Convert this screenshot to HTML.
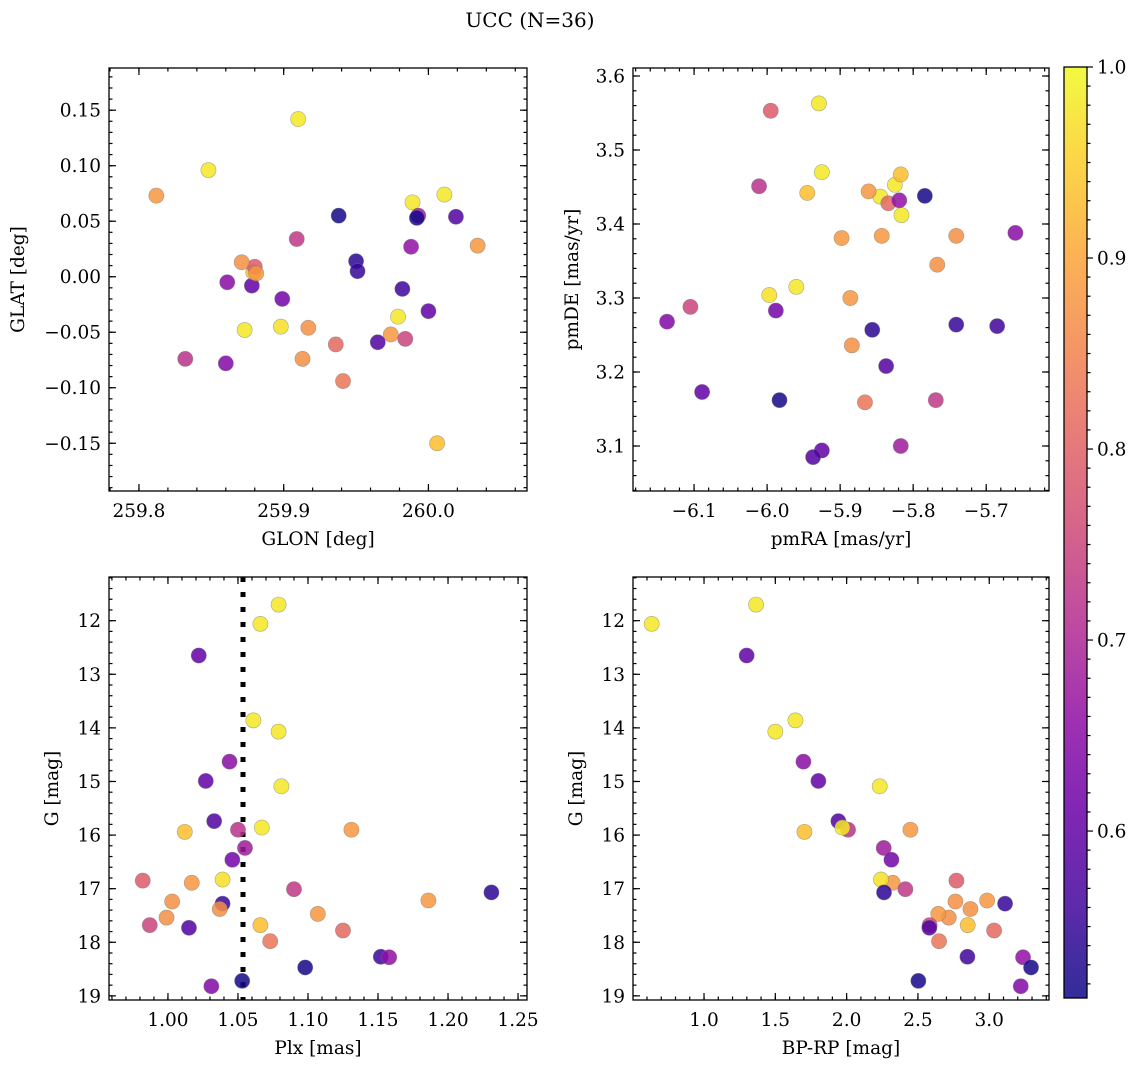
<!DOCTYPE html>
<html><head><meta charset="utf-8"><style>
html,body{margin:0;padding:0;background:#fff;}
svg text{font-family:"DejaVu Serif","Liberation Serif",serif;fill:#000;}
</style></head><body>
<svg id="fig" width="1136" height="1067" viewBox="0 0 1136 1067" xmlns="http://www.w3.org/2000/svg">
<rect width="1136" height="1067" fill="#fff"/>
<text x="530" y="27" font-size="20" text-anchor="middle">UCC (N=36)</text>
</svg>
<script>
const glon=[259.910,259.848,259.878,259.989,260.011,259.861,260.000,259.979,260.019,259.879,259.832,259.873,259.812,259.993,259.899,259.880,260.034,259.898,259.909,259.950,259.917,259.951,259.913,259.974,259.871,259.881,259.984,259.965,260.006,259.936,259.941,259.982,259.988,259.992,259.938,259.860];
const glat=[0.142,0.096,-0.008,0.067,0.074,-0.005,-0.031,-0.036,0.054,0.004,-0.074,-0.048,0.073,0.055,-0.020,0.009,0.028,-0.045,0.034,0.014,-0.046,0.005,-0.074,-0.052,0.013,0.003,-0.056,-0.059,-0.150,-0.061,-0.094,-0.011,0.027,0.053,0.055,-0.078];
const pmra=[-5.929,-5.925,-6.089,-5.825,-5.845,-5.660,-5.925,-5.816,-5.937,-5.817,-6.011,-5.960,-5.861,-5.817,-5.988,-5.995,-5.898,-5.997,-5.769,-5.856,-5.741,-5.741,-5.767,-5.886,-5.884,-5.843,-6.105,-5.837,-5.945,-5.834,-5.866,-5.685,-5.819,-5.784,-5.983,-6.137];
const pmde=[3.563,3.470,3.173,3.453,3.437,3.388,3.094,3.412,3.085,3.467,3.451,3.315,3.444,3.100,3.283,3.553,3.381,3.304,3.162,3.257,3.384,3.264,3.345,3.300,3.236,3.384,3.288,3.208,3.442,3.428,3.159,3.262,3.432,3.438,3.162,3.268];
const plx=[1.079,1.066,1.022,1.061,1.079,1.044,1.027,1.081,1.033,1.012,1.050,1.067,1.131,1.055,1.046,0.982,1.017,1.039,1.090,1.231,1.003,1.039,1.037,1.186,0.999,1.107,0.987,1.015,1.066,1.125,1.073,1.152,1.158,1.098,1.053,1.031];
const gmag=[11.70,12.06,12.65,13.86,14.07,14.63,14.99,15.09,15.74,15.94,15.90,15.86,15.90,16.24,16.46,16.85,16.89,16.83,17.01,17.07,17.24,17.28,17.38,17.22,17.54,17.47,17.68,17.73,17.68,17.78,17.98,18.27,18.28,18.47,18.72,18.82];
const bprp=[1.365,0.633,1.299,1.641,1.500,1.697,1.802,2.232,1.942,1.704,2.010,1.970,2.447,2.260,2.314,2.770,2.323,2.241,2.412,2.262,2.763,3.111,2.868,2.985,2.716,2.643,2.582,2.580,2.849,3.034,2.648,2.847,3.237,3.293,2.503,3.221];
const prob=[0.98,0.98,0.60,0.98,0.98,0.65,0.60,0.98,0.58,0.93,0.72,0.98,0.88,0.68,0.62,0.79,0.88,0.97,0.73,0.54,0.87,0.55,0.87,0.88,0.87,0.88,0.75,0.58,0.93,0.81,0.83,0.56,0.66,0.52,0.52,0.64];
const medianPlx=1.0536;
const cbTicks=[0.6,0.7,0.8,0.9,1.0];
const probMin=0.5126, probMax=1.0;

const NS="http://www.w3.org/2000/svg";
const svg=document.getElementById('fig');
function mk(tag,attrs,parent){const e=document.createElementNS(NS,tag);for(const k in attrs)e.setAttribute(k,attrs[k]);(parent||svg).appendChild(e);return e;}
const stops=[[0,'#0d0887'],[0.1,'#41049d'],[0.2,'#6a00a8'],[0.3,'#8f0da4'],[0.4,'#b12a90'],[0.5,'#cc4778'],[0.6,'#e16462'],[0.7,'#f2844b'],[0.8,'#fca636'],[0.9,'#fcce25'],[1,'#f0f921']];
function hex(h){return [1,3,5].map(i=>parseInt(h.substr(i,2),16));}
function plasma(t){t=Math.max(0,Math.min(1,t));for(let i=1;i<stops.length;i++){if(t<=stops[i][0]){const a=stops[i-1],b=stops[i];const f=(t-a[0])/(b[0]-a[0]);const ca=hex(a[1]),cb=hex(b[1]);return 'rgb('+ca.map((v,j)=>Math.round(v+(cb[j]-v)*f)).join(',')+')';}}return stops[stops.length-1][1];}
function cnorm(p){return (p-probMin)/(probMax-probMin);}

function fmt(v,d){const s=Math.abs(v).toFixed(d);return (v<-1e-9?'\u2212':'')+s;}
const FS=18.5;

function panel(cfg){
  const g=mk('g',{});
  
  
  const {x0,x1,y0,y1}=cfg.box;
  const sx=v=>x0+(v-cfg.xr[0])/(cfg.xr[1]-cfg.xr[0])*(x1-x0);
  const sy=cfg.yinv? (v=>y0+(v-cfg.yr[0])/(cfg.yr[1]-cfg.yr[0])*(y1-y0)) : (v=>y1-(v-cfg.yr[0])/(cfg.yr[1]-cfg.yr[0])*(y1-y0));
  const tg=mk('g',{stroke:'#000','stroke-width':1.2},g);
  function ticksX(step,len){const s=Math.ceil(Math.min(...cfg.xr)/step-1e-6);for(let k=s;k*step<=Math.max(...cfg.xr)+1e-9;k++){const x=sx(k*step);mk('line',{x1:x,x2:x,y1:y1,y2:y1-len},tg);mk('line',{x1:x,x2:x,y1:y0,y2:y0+len},tg);}}
  function ticksY(step,len){const lo=Math.min(...cfg.yr),hi=Math.max(...cfg.yr);const s=Math.ceil(lo/step-1e-6);for(let k=s;k*step<=hi+1e-9;k++){const y=sy(k*step);mk('line',{x1:x0,x2:x0+len,y1:y,y2:y},tg);mk('line',{x1:x1,x2:x1-len,y1:y,y2:y},tg);}}
  ticksX(cfg.xminor,3.5);ticksY(cfg.yminor,3.5);
  cfg.xticks.forEach(v=>{const x=sx(v);mk('line',{x1:x,x2:x,y1:y1,y2:y1-7},tg);mk('line',{x1:x,x2:x,y1:y0,y2:y0+7},tg);
    const t=mk('text',{x:x,y:y1+26,'font-size':FS,'text-anchor':'middle'},g);t.textContent=fmt(v,cfg.xdec);
    
    });
  cfg.yticks.forEach(v=>{const y=sy(v);mk('line',{x1:x0,x2:x0+7,y1:y,y2:y},tg);mk('line',{x1:x1,x2:x1-7,y1:y,y2:y},tg);
    const t=mk('text',{x:x0-8,y:y+6.5,'font-size':FS,'text-anchor':'end'},g);t.textContent=fmt(v,cfg.ydec);
    
    });
  if(cfg.vline!==undefined){const x=sx(cfg.vline);const l=mk('line',{x1:x,x2:x,y1:y0,y2:y1,stroke:'#000','stroke-width':5,'stroke-dasharray':'5 10'},g);
    
    }
  const pg=mk('g',{},g);
  
  
  cfg.xs.forEach((xv,i)=>{const c=mk('circle',{cx:sx(xv),cy:sy(cfg.ys[i]),r:7.6,fill:plasma(cnorm(prob[i])),'fill-opacity':0.85,stroke:'#777','stroke-opacity':0.6,'stroke-width':0.6},pg);
    
    });
  mk('rect',{x:x0,y:y0,width:x1-x0,height:y1-y0,fill:'none',stroke:'#000','stroke-width':1.3},g);
  const xl=mk('text',{x:(x0+x1)/2,y:y1+54,'font-size':FS,'text-anchor':'middle'},g);xl.textContent=cfg.xlabel;
  
  
  const yx=cfg.ylabx, yy=(y0+y1)/2;
  const yl=mk('text',{x:yx,y:yy,'font-size':FS,'text-anchor':'middle',transform:'rotate(-90 '+yx+' '+yy+')'},g);yl.textContent=cfg.ylabel;
  
  
}
panel({name:'glon-glat-panel',box:{x0:109,x1:527,y0:68,y1:491},xr:[259.7793,260.0681],yr:[-0.193,0.188],xs:glon,ys:glat,
  xticks:[259.8,259.9,260.0],xdec:1,yticks:[-0.15,-0.1,-0.05,0,0.05,0.1,0.15],ydec:2,xminor:0.02,yminor:0.01,xlabel:'GLON [deg]',ylabel:'GLAT [deg]',ylabx:24});
panel({name:'pm-panel',box:{x0:633,x1:1049,y0:68,y1:491},xr:[-6.1836,-5.614],yr:[3.0392,3.6108],xs:pmra,ys:pmde,
  xticks:[-6.1,-6.0,-5.9,-5.8,-5.7],xdec:1,yticks:[3.1,3.2,3.3,3.4,3.5,3.6],ydec:1,xminor:0.02,yminor:0.02,xlabel:'pmRA [mas/yr]',ylabel:'pmDE [mas/yr]',ylabx:578});
panel({name:'plx-g-panel',box:{x0:109,x1:527,y0:577,y1:1000},xr:[0.9579,1.2564],yr:[11.185,19.077],yinv:true,xs:plx,ys:gmag,vline:medianPlx,
  xticks:[1.0,1.05,1.1,1.15,1.2,1.25],xdec:2,yticks:[12,13,14,15,16,17,18,19],ydec:0,xminor:0.01,yminor:0.2,xlabel:'Plx [mas]',ylabel:'G [mag]',ylabx:58});
panel({name:'cmd-panel',box:{x0:633,x1:1049,y0:577,y1:1000},xr:[0.502,3.419],yr:[11.185,19.077],yinv:true,xs:bprp,ys:gmag,
  xticks:[1.0,1.5,2.0,2.5,3.0],xdec:1,yticks:[12,13,14,15,16,17,18,19],ydec:0,xminor:0.1,yminor:0.2,xlabel:'BP-RP [mag]',ylabel:'G [mag]',ylabx:582});

const defs=mk('defs',{});
const lg=mk('linearGradient',{id:'cbg',x1:0,y1:1,x2:0,y2:0},defs);
stops.forEach(s=>{const c=hex(s[1]);const m=c.map(v=>Math.round(v*0.85+255*0.15));mk('stop',{offset:s[0],'stop-color':'rgb('+m.join(',')+')'},lg);});
const cb=mk('g',{});


const cbx0=1064,cbx1=1087,cby0=67,cby1=998;
mk('rect',{x:cbx0,y:cby0,width:cbx1-cbx0,height:cby1-cby0,fill:'url(#cbg)'},cb);
const cy=v=>cby1-(v-probMin)/(probMax-probMin)*(cby1-cby0);
for(let k=52;k<=100;k++){const v=k/100;if(v<probMin)continue;const y=cy(v);mk('line',{x1:cbx1,x2:cbx1+(k%10===0?6:3.5),y1:y,y2:y,stroke:'#000','stroke-width':1.2},cb);}
cbTicks.forEach(v=>{const y=cy(v);const t=mk('text',{x:cbx1+10,y:y+6.5,'font-size':FS},cb);t.textContent=v.toFixed(1);
  
  });
mk('rect',{x:cbx0,y:cby0,width:cbx1-cbx0,height:cby1-cby0,fill:'none',stroke:'#000','stroke-width':1.3},cb);
</script>
</body></html>
